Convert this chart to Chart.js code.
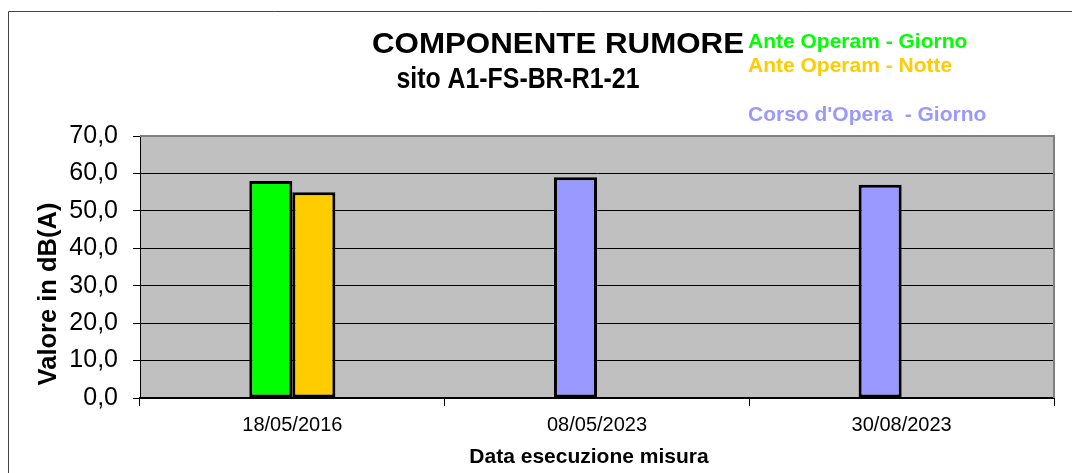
<!DOCTYPE html>
<html>
<head>
<meta charset="utf-8">
<script src="https://cdn.jsdelivr.net/npm/chart.js@4.4.1/dist/chart.umd.min.js"></script>
<style>
html,body{margin:0;padding:0;background:#fff;}
canvas{display:block;}
</style>
</head>
<body>
<canvas id="c" width="1072" height="473"></canvas>
<script>
// ---- data ----
const categories = ['18/05/2016', '08/05/2023', '30/08/2023'];
const giornoValues = [58.0, 59.0, 57.0];
const notteValues = [55.0, null, null];
const giornoColors = ['#00FF00', '#9999FF', '#9999FF'];
const notteColors = ['#FFCC00', '#FFCC00', '#FFCC00'];
const yMin = 0, yMax = 70, yStep = 10;
const titleLines = ['COMPONENTE RUMORE', 'sito A1-FS-BR-R1-21'];
const legendLabels = ['Ante Operam - Giorno', 'Ante Operam - Notte', "Corso d'Opera  - Giorno"];
const legendColors = ['#00FF00', '#FFCC00', '#9999FF'];
const yTitle = 'Valore in dB(A)';
const xTitle = 'Data esecuzione misura';

const FONT = '"Liberation Sans", Arial, sans-serif';

function fitText(ctx, text, cx, baseline, size, targetWidth) {
  ctx.font = 'bold ' + size + 'px ' + FONT;
  const w = ctx.measureText(text).width;
  const sx = targetWidth / w;
  ctx.save();
  ctx.translate(cx, baseline);
  ctx.scale(sx, 1);
  ctx.textAlign = 'center';
  ctx.fillText(text, 0, 0);
  ctx.restore();
}

const decor = {
  id: 'decor',
  beforeDraw(chart) {
    const ctx = chart.ctx, a = chart.chartArea;
    ctx.save();
    ctx.fillStyle = '#fff';
    ctx.fillRect(0, 0, chart.width, chart.height);
    // outer frame
    ctx.strokeStyle = '#444';
    ctx.lineWidth = 1;
    ctx.beginPath();
    ctx.moveTo(8.5, chart.height);
    ctx.lineTo(8.5, 11.5);
    ctx.lineTo(chart.width, 11.5);
    ctx.stroke();
    // plot background
    ctx.fillStyle = '#C0C0C0';
    ctx.fillRect(a.left, a.top, a.right - a.left, a.bottom - a.top);
    ctx.restore();
  },
  afterDraw(chart) {
    const ctx = chart.ctx, a = chart.chartArea;
    ctx.save();
    // plot border top/right
    ctx.strokeStyle = '#808080';
    ctx.lineWidth = 2;
    ctx.beginPath();
    ctx.moveTo(a.left, a.top);
    ctx.lineTo(a.right, a.top);
    ctx.lineTo(a.right, a.bottom);
    ctx.stroke();
    // title
    ctx.fillStyle = '#000';
    ctx.textBaseline = 'alphabetic';
    fitText(ctx, titleLines[0], 558, 53, 30, 372);
    fitText(ctx, titleLines[1], 518, 88, 29, 243);
    // legend texts
    ctx.textAlign = 'left';
    ctx.font = 'bold 21px ' + FONT;
    const ys = [48, 72, 121];
    legendLabels.forEach((t, i) => {
      ctx.fillStyle = legendColors[i];
      ctx.fillText(t, 748, ys[i]);
    });
    // x title
    ctx.fillStyle = '#000';
    ctx.textAlign = 'center';
    ctx.font = 'bold 21px ' + FONT;
    ctx.fillText(xTitle, 589, 463);
    // y title
    ctx.save();
    ctx.translate(49, 294);
    ctx.rotate(-Math.PI / 2);
    ctx.textBaseline = 'middle';
    ctx.font = 'bold 25.5px ' + FONT;
    ctx.fillText(yTitle, 0, 0);
    ctx.restore();
    ctx.restore();
  }
};

new Chart(document.getElementById('c'), {
  type: 'bar',
  data: {
    labels: categories,
    datasets: [
      { label: legendLabels[0], data: giornoValues, backgroundColor: giornoColors },
      { label: legendLabels[1], data: notteValues, backgroundColor: notteColors }
    ]
  },
  options: {
    responsive: false,
    animation: false,
    devicePixelRatio: 1,
    layout: { padding: { top: 136, right: 18, left: 0, bottom: 0 } },
    datasets: {
      bar: {
        barPercentage: 1,
        categoryPercentage: 0.2825,
        borderColor: '#000',
        borderWidth: 3,
        borderSkipped: false
      }
    },
    plugins: {
      legend: { display: false },
      title: { display: false },
      tooltip: { enabled: false }
    },
    scales: {
      x: {
        offset: true,
        grid: { display: true, drawOnChartArea: false, offset: true, tickLength: 8, color: '#000', tickColor: '#000' },
        border: { display: true, color: '#000', width: 2 },
        ticks: { color: '#000', font: { family: FONT, size: 20 }, padding: 7, maxRotation: 0 },
        afterFit(s) { s.height = 75; }
      },
      y: {
        min: yMin,
        max: yMax,
        grid: { color: '#000', tickColor: '#000', tickLength: 7, lineWidth: 1 },
        border: { display: true, color: '#000', width: 1 },
        ticks: {
          stepSize: yStep,
          color: '#000',
          font: { family: FONT, size: 25 },
          padding: 15,
          callback: v => v.toFixed(1).replace('.', ',')
        },
        afterFit(s) { s.width = 140; }
      }
    }
  },
  plugins: [decor]
});
</script>
</body>
</html>
